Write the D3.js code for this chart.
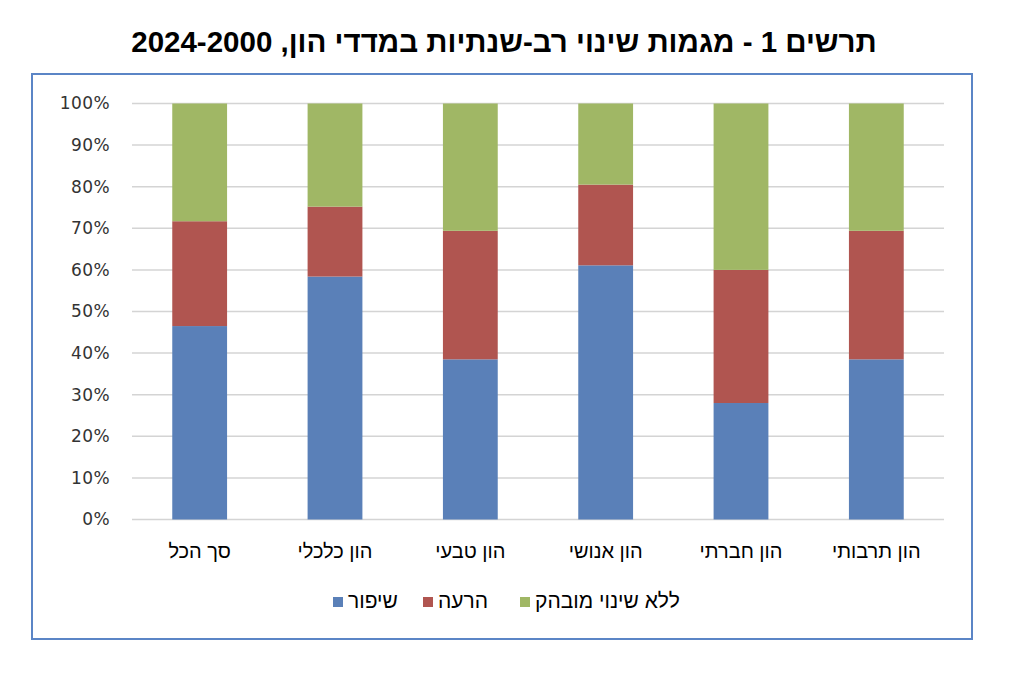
<!DOCTYPE html>
<html lang="he">
<head>
<meta charset="utf-8">
<script src="https://cdn.jsdelivr.net/npm/d3@7"></script>
<style>
    html, body { margin: 0; padding: 0; background: #fff; }
    svg { display: block; font-family: "Liberation Sans", Arial, sans-serif; }
</style>
</head>
<body>
<div id="chart"></div>
<script>
// data (percent of indicators per capital type)
const categories = ["סך הכל", "הון כלכלי", "הון טבעי", "הון אנושי", "הון חברתי", "הון תרבותי"];
const seriesNames = ["שיפור", "הרעה", "ללא שינוי מובהק"];
const improved = [46.5, 58.4, 38.5, 61.1, 28.0, 38.5];
const worsened = [25.2, 16.8, 30.9, 19.4, 32.0, 30.9];
const noChange = [28.3, 24.8, 30.6, 19.5, 40.0, 30.6];
const yTicks = [0, 10, 20, 30, 40, 50, 60, 70, 80, 90, 100];
const titleText = "תרשים 1 - מגמות שינוי רב-שנתיות במדדי הון, 2024-2000";

const colors = ["#5a80b8", "#b05550", "#a0b765"];

const width = 1024, height = 673;
const plot = { left: 132, right: 944, top: 103.5, bottom: 519.5 };

const svg = d3.select("#chart").append("svg")
    .attr("width", width)
    .attr("height", height);

// outer frame
svg.append("rect")
    .attr("x", 32).attr("y", 74)
    .attr("width", 940).attr("height", 565)
    .attr("fill", "none")
    .attr("stroke", "#5b85c6")
    .attr("stroke-width", 2);

// title
svg.append("text")
    .attr("x", 504).attr("y", 52)
    .attr("text-anchor", "middle")
    .attr("direction", "rtl")
    .attr("font-size", 29.5)
    .attr("font-weight", "bold")
    .attr("fill", "#000")
    .text(titleText);

const x = d3.scaleBand()
    .domain(categories)
    .range([plot.left, plot.right])
    .paddingInner(0.595)
    .paddingOuter(0.2975);

const y = d3.scaleLinear()
    .domain([0, 100])
    .range([plot.bottom, plot.top]);

// grid lines
svg.append("g")
    .selectAll("line")
    .data(yTicks)
    .join("line")
    .attr("x1", plot.left).attr("x2", plot.right)
    .attr("y1", d => y(d)).attr("y2", d => y(d))
    .attr("stroke", "#d4d4d4")
    .attr("stroke-width", 1.5);

// y axis labels
const yAxis = d3.axisLeft(y).tickValues(yTicks).tickFormat(d => d + "%").tickSize(0).tickPadding(0);
svg.append("g")
    .attr("transform", `translate(110,0)`)
    .call(yAxis)
    .call(g => g.select(".domain").remove())
    .selectAll("text")
    .attr("font-size", 17)
    .attr("font-family", "DejaVu Sans, Verdana, sans-serif")
    .attr("letter-spacing", 0.4)
    .attr("fill", "#333");

// stacked bars
const rows = categories.map((c, i) => ({
    cat: c,
    [seriesNames[0]]: improved[i],
    [seriesNames[1]]: worsened[i],
    [seriesNames[2]]: noChange[i]
}));
const stacked = d3.stack().keys(seriesNames)(rows);

svg.append("g")
    .selectAll("g")
    .data(stacked)
    .join("g")
    .attr("fill", (d, i) => colors[i])
    .selectAll("rect")
    .data(d => d)
    .join("rect")
    .attr("x", d => x(d.data.cat))
    .attr("width", x.bandwidth())
    .attr("y", d => y(d[1]))
    .attr("height", d => y(d[0]) - y(d[1]));

// x axis labels
const xAxis = d3.axisBottom(x).tickSize(0).tickPadding(0);
svg.append("g")
    .attr("transform", `translate(0,${plot.bottom})`)
    .call(xAxis)
    .call(g => g.select(".domain").remove())
    .selectAll("text")
    .attr("dy", 0)
    .attr("y", 38)
    .attr("direction", "rtl")
    .attr("font-size", 20)
    .attr("font-family", "Liberation Sans, Arial, sans-serif")
    .attr("fill", "#000");

// legend, laid out left to right as in the reference
const legendItems = [
    { name: seriesNames[0], color: colors[0], sq: 333 },
    { name: seriesNames[1], color: colors[1], sq: 423 },
    { name: seriesNames[2], color: colors[2], sq: 520 }
];
const legend = svg.append("g");
legendItems.forEach(it => {
    legend.append("rect")
        .attr("x", it.sq).attr("y", 597)
        .attr("width", 10).attr("height", 10)
        .attr("fill", it.color);
    legend.append("text")
        .attr("x", it.sq + 15).attr("y", 608)
        .attr("text-anchor", "start")
        .attr("font-size", 21)
        .attr("fill", "#000")
        .text(it.name);
});
</script>
</body>
</html>
